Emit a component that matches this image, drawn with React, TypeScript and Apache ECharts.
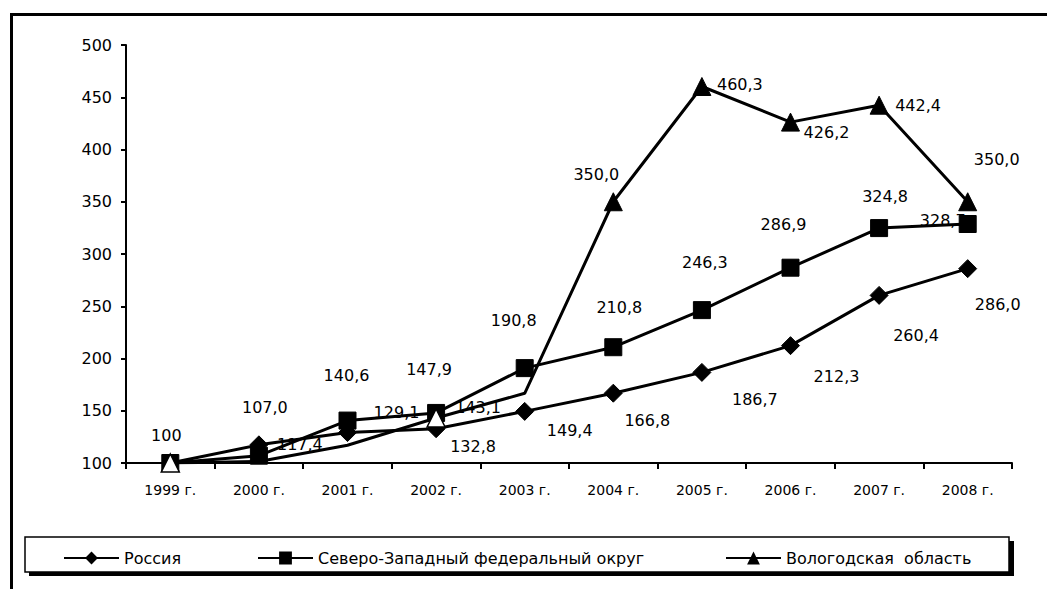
import React, { useEffect, useRef } from "react";
import * as echarts from "echarts";

const years = ["1999 г.", "2000 г.", "2001 г.", "2002 г.", "2003 г.", "2004 г.", "2005 г.", "2006 г.", "2007 г.", "2008 г."];
const russia = [100, 117.4, 129.1, 132.8, 149.4, 166.8, 186.7, 212.3, 260.4, 286.0];
const northwest = [100, 107.0, 140.6, 147.9, 190.8, 210.8, 246.3, 286.9, 324.8, 328.7];
const vologda = [100, 101.5, 117.0, 143.1, 166.7, 350.0, 460.3, 426.2, 442.4, 350.0];
const yTicks = { min: 100, max: 500, interval: 50 };

// label placement (style only): [dx, dy] from marker centre, null = hidden
const russiaLabelOffsets = [null, [41, 0], [49, -20], [37, 18], [45, 19], [34, 27], [53, 27], [46, 31], [37, 40], [30, 36]];
const northwestLabelOffsets = [null, [6, -48], [-1, -45], [-7, -43], [-11, -48], [6, -40], [3, -48], [-7, -43], [6, -32], [-25, -4]];
const vologdaLabelOffsets = [[-4, -28], null, [39, 6], [42, -10], [42, -6], [-17, -27], [38, -2], [36, 10], [39, 0], [29, -42]];
// marker look of the Vologda points in the scan: "solid", "hollow", "none"
const vologdaMarkerLook = ["hollow", "none", "none", "hollow", "none", "solid", "solid", "solid", "solid", "solid"];

const FONT = "DejaVu Sans";

function fmt(v: number, i: number) {
  if (i === 0) return String(v);
  return v.toFixed(1).replace(".", ",");
}

function build(values: number[], offsets: (number[] | null)[], looks?: string[]) {
  return values.map((v, i) => {
    const off = offsets[i];
    const item: any = {
      value: v,
      label: off
        ? { show: true, position: "inside", offset: off, formatter: () => fmt(v, i) }
        : { show: false },
    };
    if (looks) {
      if (looks[i] === "none") item.symbol = "none";
      if (looks[i] === "hollow") item.itemStyle = { color: "#fff", borderColor: "#000", borderWidth: 1.5 };
    }
    return item;
  });
}

export default function App() {
  const ref = useRef<HTMLDivElement>(null);
  useEffect(() => {
    if (!ref.current) return;
    const chart = echarts.init(ref.current, null, { renderer: "svg" });
    const labelBase = { color: "#000", fontSize: 16, fontFamily: FONT, align: "center", verticalAlign: "middle" };
    const lineStyle = { color: "#000", width: 3 };
    const itemStyle = { color: "#000", borderColor: "#000" };
    const legendText = { fontSize: 16, fontFamily: FONT, color: "#000" };
    chart.setOption({
      animation: false,
      backgroundColor: "#fff",
      textStyle: { fontFamily: FONT, color: "#000" },
      grid: { left: 126, right: 35, top: 45, bottom: 126, containLabel: false },
      xAxis: {
        type: "category",
        data: years,
        boundaryGap: true,
        axisLine: { lineStyle: { color: "#000", width: 2 } },
        axisTick: { show: true, interval: 0, length: 6, lineStyle: { color: "#000", width: 2 } },
        axisLabel: { color: "#000", fontSize: 14, fontFamily: FONT, margin: 20, interval: 0 },
        splitLine: { show: false },
      },
      yAxis: {
        type: "value",
        min: yTicks.min,
        max: yTicks.max,
        interval: yTicks.interval,
        axisLine: { show: true, lineStyle: { color: "#000", width: 2 } },
        axisTick: { show: true, length: 5, lineStyle: { color: "#000", width: 2 } },
        axisLabel: { color: "#000", fontSize: 16, fontFamily: FONT, margin: 14 },
        splitLine: { show: false },
      },
      legend: [
        { data: ["Россия"], left: 58, top: 545, itemWidth: 55, itemHeight: 16, textStyle: legendText },
        { data: ["Северо-Западный федеральный округ"], left: 252, top: 545, itemWidth: 55, itemHeight: 16, textStyle: legendText },
        { data: ["Вологодская  область"], left: 720, top: 545, itemWidth: 55, itemHeight: 16, textStyle: legendText },
      ],
      graphic: [
        { type: "rect", left: 9, top: 12, shape: { width: 1100, height: 700 }, style: { fill: "none", stroke: "#000", lineWidth: 3 }, z: 0 },
        { type: "rect", x: 29, y: 541, shape: { width: 985, height: 35 }, style: { fill: "#000" }, z: 1 },
        { type: "rect", x: 25, y: 537, shape: { width: 984, height: 35 }, style: { fill: "#fff", stroke: "#000", lineWidth: 1.5 }, z: 2 },
      ],
      series: [
        {
          name: "Россия",
          type: "line",
          data: build(russia, russiaLabelOffsets),
          symbol: "diamond",
          symbolSize: 18,
          lineStyle,
          itemStyle,
          label: labelBase,
          z: 3,
        },
        {
          name: "Северо-Западный федеральный округ",
          type: "line",
          data: build(northwest, northwestLabelOffsets),
          symbol: "rect",
          symbolSize: 17,
          lineStyle,
          itemStyle,
          label: labelBase,
          z: 4,
        },
        {
          name: "Вологодская  область",
          type: "line",
          data: build(vologda, vologdaLabelOffsets, vologdaMarkerLook),
          symbol: "triangle",
          symbolSize: 18,
          showAllSymbol: true,
          lineStyle,
          itemStyle,
          label: labelBase,
          z: 5,
        },
      ],
    });
    return () => chart.dispose();
  }, []);
  return <div ref={ref} style={{ width: 1047, height: 589, position: "absolute", left: 0, top: 0 }} />;
}
